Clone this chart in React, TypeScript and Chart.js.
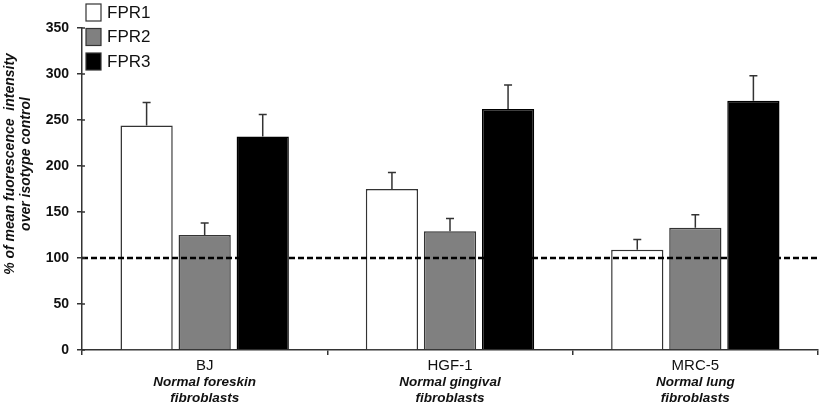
import { useRef, useEffect } from "react";
import { Chart, registerables } from "chart.js";

Chart.register(...registerables);

const cellLines = ["BJ", "HGF-1", "MRC-5"];
const cellDescriptions = [
  ["Normal foreskin", "fibroblasts"],
  ["Normal gingival", "fibroblasts"],
  ["Normal lung", "fibroblasts"],
];
const receptors = ["FPR1", "FPR2", "FPR3"];
const fpr1 = [244, 175, 109];
const fpr2 = [125, 129, 133];
const fpr3 = [232, 262, 271];
const fpr1Err = [25, 18, 11];
const fpr2Err = [13, 14, 14];
const fpr3Err = [24, 26, 27];
const yTicks = [0, 50, 100, 150, 200, 250, 300, 350];
const controlLevel = 100;
const yTitle = ["% of mean fuorescence  intensity", "over isotype control"];

const FONT = "'Liberation Sans', Arial, sans-serif";
const fills = ["#ffffff", "#808080", "#000000"];
const errors = [fpr1Err, fpr2Err, fpr3Err];

const extrasPlugin = {
  id: "extras",
  afterDatasetsDraw(chart: any) {
    const { ctx, chartArea, scales } = chart;
    const y = scales.y;
    const x = scales.x;

    // error bars (upper whisker only)
    ctx.save();
    ctx.strokeStyle = "#333";
    ctx.lineWidth = 1.5;
    chart.data.datasets.forEach((ds: any, di: number) => {
      const meta = chart.getDatasetMeta(di);
      meta.data.forEach((bar: any, i: number) => {
        const top = y.getPixelForValue(ds.data[i] + errors[di][i]);
        ctx.beginPath();
        ctx.moveTo(bar.x, bar.y);
        ctx.lineTo(bar.x, top);
        ctx.moveTo(bar.x - 4, top);
        ctx.lineTo(bar.x + 4, top);
        ctx.stroke();
      });
    });
    ctx.restore();

    // dashed control line
    const ly = y.getPixelForValue(controlLevel);
    ctx.save();
    ctx.strokeStyle = "#000";
    ctx.lineWidth = 2.5;
    ctx.setLineDash([6, 3]);
    ctx.beginPath();
    ctx.moveTo(chartArea.left, ly);
    ctx.lineTo(chartArea.right, ly);
    ctx.stroke();
    ctx.restore();

    // y tick marks also poke a little into the plot
    ctx.save();
    ctx.strokeStyle = "#333";
    ctx.lineWidth = 1.5;
    yTicks.forEach((v) => {
      const py = y.getPixelForValue(v);
      ctx.beginPath();
      ctx.moveTo(chartArea.left, py);
      ctx.lineTo(chartArea.left + 3, py);
      ctx.stroke();
    });
    ctx.restore();

    // category labels
    ctx.save();
    ctx.fillStyle = "#111";
    ctx.textAlign = "center";
    ctx.textBaseline = "middle";
    cellLines.forEach((name, i) => {
      const cx = x.getPixelForValue(i);
      ctx.font = `15px ${FONT}`;
      ctx.fillText(name, cx, 366);
      ctx.font = `italic bold 13.5px ${FONT}`;
      ctx.fillText(cellDescriptions[i][0], cx, 382);
      ctx.fillText(cellDescriptions[i][1], cx, 398);
    });
    ctx.restore();

    // y title
    ctx.save();
    ctx.fillStyle = "#111";
    ctx.font = `italic bold 14px ${FONT}`;
    ctx.textAlign = "center";
    ctx.textBaseline = "middle";
    ctx.translate(0, 164);
    ctx.rotate(-Math.PI / 2);
    ctx.fillText(yTitle[0], 0, 10);
    ctx.fillText(yTitle[1], 0, 26);
    ctx.restore();

    // legend
    ctx.save();
    ctx.font = `17px ${FONT}`;
    ctx.textBaseline = "middle";
    receptors.forEach((r, i) => {
      const cy = 12 + i * 24.5;
      ctx.fillStyle = fills[i];
      ctx.fillRect(86, cy - 8, 15, 17);
      ctx.strokeStyle = "#333";
      ctx.lineWidth = 1.2;
      ctx.strokeRect(86, cy - 8, 15, 17);
      ctx.fillStyle = "#111";
      ctx.fillText(r, 107, cy + 1);
    });
    ctx.restore();
  },
};

function BarChart() {
  const canvasRef = useRef<HTMLCanvasElement>(null);
  const chartRef = useRef<Chart | null>(null);

  useEffect(() => {
    if (!canvasRef.current) return;
    if (chartRef.current) chartRef.current.destroy();

    const series = [fpr1, fpr2, fpr3];
    chartRef.current = new Chart(canvasRef.current, {
      type: "bar",
      data: {
        labels: cellLines,
        datasets: receptors.map((r, i) => ({
          label: r,
          data: series[i],
          backgroundColor: fills[i],
          borderColor: i === 2 ? "#000" : "#333",
          borderWidth: 1.5,
          categoryPercentage: 0.71,
          barPercentage: 0.9,
        })),
      },
      options: {
        responsive: true,
        maintainAspectRatio: false,
        animation: false,
        layout: { padding: { top: 28, right: 9, left: 0, bottom: 0 } },
        plugins: {
          legend: { display: false },
          tooltip: { enabled: false },
        },
        scales: {
          x: {
            grid: {
              offset: true,
              drawOnChartArea: false,
              tickLength: 5,
              color: "#333",
              lineWidth: 1.5,
            },
            border: { color: "#333", width: 1.5 },
            ticks: { display: false },
            afterFit: (scale: any) => {
              scale.height = 61;
            },
          },
          y: {
            min: 0,
            max: 350,
            afterBuildTicks: (scale: any) => {
              scale.ticks = yTicks.map((v) => ({ value: v }));
            },
            grid: {
              drawOnChartArea: false,
              tickLength: 5,
              color: "#333",
              lineWidth: 1.5,
            },
            border: { color: "#333", width: 1.5 },
            ticks: {
              color: "#111",
              padding: 8,
              font: { family: FONT, size: 14, weight: "bold" },
            },
            afterFit: (scale: any) => {
              scale.width = 82;
            },
          },
        },
      } as any,
      plugins: [extrasPlugin],
    });

    return () => {
      chartRef.current?.destroy();
      chartRef.current = null;
    };
  }, []);

  return (
    <div style={{ width: 827, height: 411, position: "relative" }}>
      <canvas ref={canvasRef} />
    </div>
  );
}

export default function App() {
  useEffect(() => {
    document.body.style.margin = "0";
    document.body.style.background = "#fff";
  }, []);
  return <BarChart />;
}
